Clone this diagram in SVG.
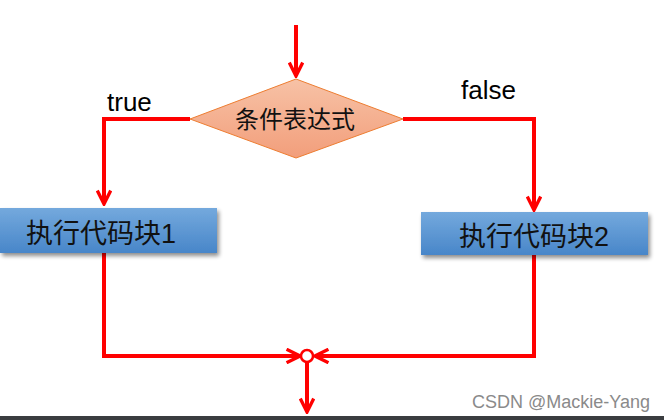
<svg xmlns="http://www.w3.org/2000/svg" width="664" height="420" viewBox="0 0 664 420">
<defs>
<linearGradient id="gBox" x1="0" y1="0" x2="0" y2="1">
<stop offset="0" stop-color="#74a9dd"/>
<stop offset="1" stop-color="#4886c9"/>
</linearGradient>
<linearGradient id="gDia" x1="0" y1="0" x2="0" y2="1">
<stop offset="0" stop-color="#f7c2a6"/>
<stop offset="1" stop-color="#f29e7b"/>
</linearGradient>
<filter id="sh" x="-10%" y="-20%" width="125%" height="160%">
<feGaussianBlur in="SourceAlpha" stdDeviation="2"/>
<feOffset dx="2" dy="3" result="b"/>
<feComponentTransfer><feFuncA type="linear" slope="0.45"/></feComponentTransfer>
<feMerge><feMergeNode/><feMergeNode in="SourceGraphic"/></feMerge>
</filter>
<marker id="ah" viewBox="0 0 10 10" refX="9" refY="5" markerWidth="4.2" markerHeight="4.2" orient="auto" markerUnits="strokeWidth">
<path d="M1,1 L9,5 L1,9" fill="none" stroke="#ff0000" stroke-width="2"/>
</marker>
</defs>
<style>
.ln{fill:none;stroke:#ff0000;stroke-width:4}
.lbl{font-family:"Liberation Sans",Arial,sans-serif;font-size:26px;fill:#000}
.cjk{font-family:"Liberation Sans","Noto Sans CJK SC",sans-serif;fill:#111}
.box{fill:url(#gBox);filter:url(#sh)}
</style>
<rect width="664" height="420" fill="#fff"/>
<g id="connectors">
<line class="ln" x1="296" y1="25" x2="296" y2="76" marker-end="url(#ah)"/>
<polyline class="ln" points="190,119 104,119 104,204" marker-end="url(#ah)"/>
<polyline class="ln" points="403,119 534,119 534,210" marker-end="url(#ah)"/>
<polyline class="ln" points="104,253 104,356 300,356" marker-end="url(#ah)"/>
<polyline class="ln" points="534,255 534,356 315,356" marker-end="url(#ah)"/>
<line class="ln" x1="307" y1="362" x2="307" y2="412" marker-end="url(#ah)"/>
</g>
<g id="label-true"><text class="lbl" x="107" y="111">true</text></g>
<g id="label-false"><text class="lbl" x="461" y="99">false</text></g>
<g id="cond">
<polygon points="296,79 403,119 296,158 190,119" fill="url(#gDia)" stroke="#ed7d31" stroke-width="1"/>
<text class="cjk" x="295" y="128" font-size="24" text-anchor="middle">条件表达式</text>
</g>
<g id="block1">
<rect class="box" x="0" y="208" width="217" height="45"/>
<text class="cjk" x="101" y="243" font-size="27" text-anchor="middle">执行代码块1</text>
</g>
<g id="block2">
<rect class="box" x="421" y="212" width="227" height="43"/>
<text class="cjk" x="534" y="246" font-size="27" text-anchor="middle">执行代码块2</text>
</g>
<g id="merge">
<circle cx="307" cy="356" r="6" fill="#fff" stroke="#ff0000" stroke-width="2.5"/>
</g>
<rect x="0" y="416" width="664" height="4" fill="#3a3d40"/>
<text x="472" y="408" font-family="'Liberation Sans',Arial,sans-serif" font-size="18" fill="#8a8a8a">CSDN @Mackie-Yang</text>
</svg>
